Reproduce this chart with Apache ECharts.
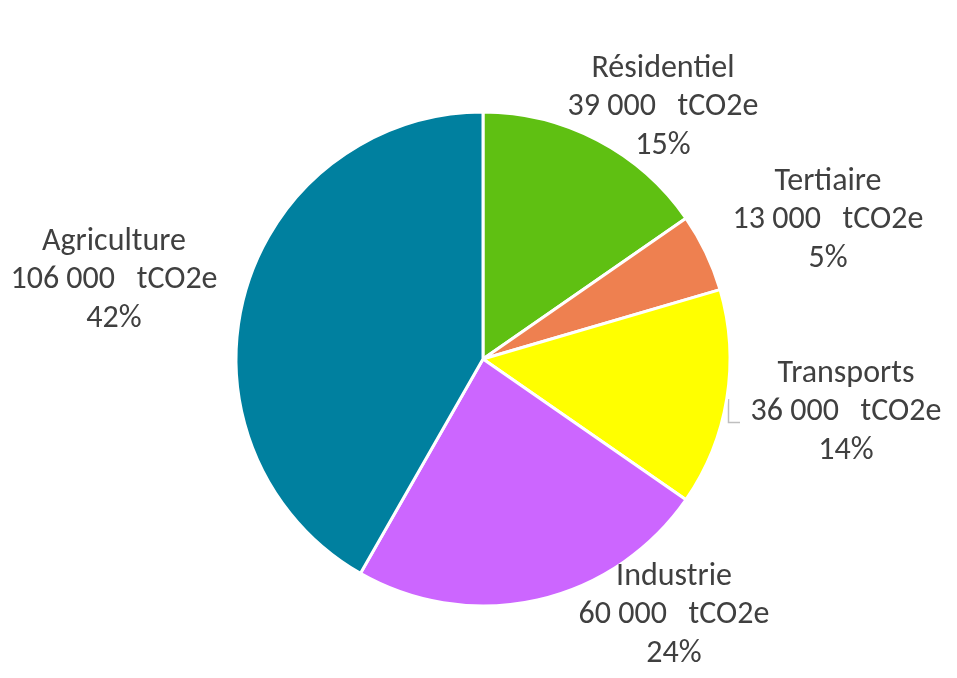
<!DOCTYPE html>
<html><head><meta charset="utf-8">
<script src="https://cdn.jsdelivr.net/npm/echarts@6/dist/echarts.min.js"></script>
<style>html,body{margin:0;padding:0;background:#fff}#c{width:957px;height:678px}</style>
</head><body><div id="c"></div>
<script>
const categories = ["Résidentiel", "Tertiaire", "Transports", "Industrie", "Agriculture"];
const values = [39000, 13000, 36000, 60000, 106000];
const colors = ["#5FC012", "#EE8050", "#FFFF00", "#CC66FF", "#00809F"];
const labelCenters = [[663, 107], [828, 220], [846, 412], [674, 615], [114, 280]];

function fmt(v) { return String(v).replace(/\B(?=(\d{3})+(?!\d))/g, ' '); }

const chart = echarts.init(document.getElementById('c'), null, {renderer: 'canvas'});
chart.setOption({
  animation: false,
  graphic: [{
    type: 'polyline',
    shape: { points: [[728.5, 399], [728.5, 422.5], [740, 422.5]] },
    style: { stroke: '#BFBFBF', lineWidth: 1.5, fill: null }
  }],
  series: [{
    type: 'pie',
    center: [483, 359],
    radius: 247,
    startAngle: 90,
    clockwise: true,
    percentPrecision: 0,
    itemStyle: { borderColor: '#fff', borderWidth: 3 },
    data: categories.map((c, i) => ({ name: c, value: values[i], itemStyle: { color: colors[i] } })),
    label: {
      show: true,
      position: 'outside',
      alignTo: 'none',
      overflow: 'none',
      width: 400,
      formatter: p => p.name + '\n' + fmt(p.value) + '   tCO2e\n' + Math.round(p.percent) + '%',
      fontFamily: 'Carlito, "Open Sans", sans-serif',
      fontSize: 32,
      lineHeight: 38.5,
      color: '#404040',
      align: 'center'
    },
    labelLine: { show: false },
    labelLayout: p => ({
      x: labelCenters[p.dataIndex][0],
      y: labelCenters[p.dataIndex][1],
      align: 'center',
      verticalAlign: 'middle'
    })
  }]
});
</script></body></html>
